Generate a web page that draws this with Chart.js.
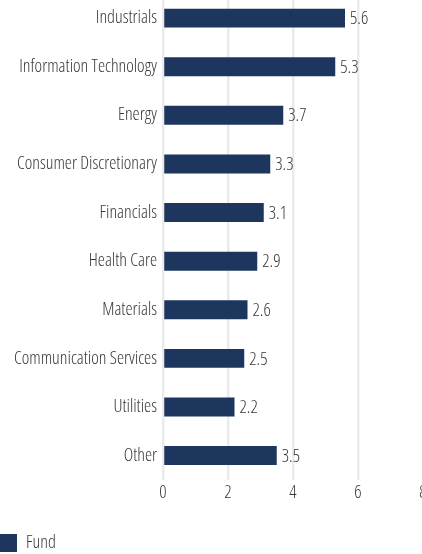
<!DOCTYPE html>
<html>
<head>
<meta charset="utf-8">
<script src="https://cdn.jsdelivr.net/npm/chart.js@4"></script>
<style>
html,body{margin:0;padding:0;width:422px;height:554px;overflow:hidden;background:#fff;}
#wrap{position:absolute;left:-10px;top:-23px;width:442px;height:585px;}
</style>
</head>
<body>
<div id="wrap"><canvas id="c"></canvas></div>
<script>
const categories = ["Industrials","Information Technology","Energy","Consumer Discretionary","Financials","Health Care","Materials","Communication Services","Utilities","Other"];
const fundValues = [5.6,5.3,3.7,3.3,3.1,2.9,2.6,2.5,2.2,3.5];
const seriesName = "Fund";
const xTicks = [0,2,4,6,8];

const FAMILY = "'Open Sans', sans-serif";
const WEIGHT = "condensed 300";
const TEXT = '#383838';
const font = (size) => ({ family: FAMILY, weight: WEIGHT, size: size });

const valueLabels = {
  id: 'valueLabels',
  afterDatasetsDraw(chart) {
    const ctx = chart.ctx;
    const meta = chart.getDatasetMeta(0);
    ctx.save();
    ctx.font = WEIGHT + " 18px " + FAMILY;
    ctx.fillStyle = TEXT;
    ctx.textAlign = 'left';
    ctx.textBaseline = 'middle';
    meta.data.forEach((bar, i) => {
      ctx.fillText(fundValues[i].toFixed(1), bar.x + 5, bar.y + 1);
    });
    ctx.restore();
  }
};

new Chart(document.getElementById('c'), {
  type: 'bar',
  data: {
    labels: categories,
    datasets: [{
      label: seriesName,
      data: fundValues,
      backgroundColor: '#1c365e',
      borderWidth: 0,
      categoryPercentage: 1,
      barPercentage: 0.39
    }]
  },
  options: {
    indexAxis: 'y',
    responsive: true,
    maintainAspectRatio: false,
    animation: false,
    layout: { padding: { top: 0, right: 9, left: 0, bottom: 0 } },
    scales: {
      x: {
        min: 0, max: 8,
        afterBuildTicks(scale) { scale.ticks = xTicks.map(v => ({ value: v })); },
        afterFit(scale) { scale.height += 17.5; },
        grid: { color: '#ebebeb', lineWidth: 2.5, drawTicks: false },
        border: { display: false },
        ticks: { color: TEXT, font: font(18), padding: 2.5 }
      },
      y: {
        afterFit(scale) { scale.width = 173; },
        grid: { display: false, drawTicks: false },
        border: { display: false },
        ticks: { color: TEXT, font: font(18), padding: 6 }
      }
    },
    plugins: {
      legend: {
        position: 'bottom',
        align: 'start',
        labels: { boxWidth: 17, boxHeight: 18, color: TEXT, font: font(18), padding: 10 }
      },
      tooltip: { enabled: false }
    }
  },
  plugins: [valueLabels]
});
</script>
</body>
</html>
